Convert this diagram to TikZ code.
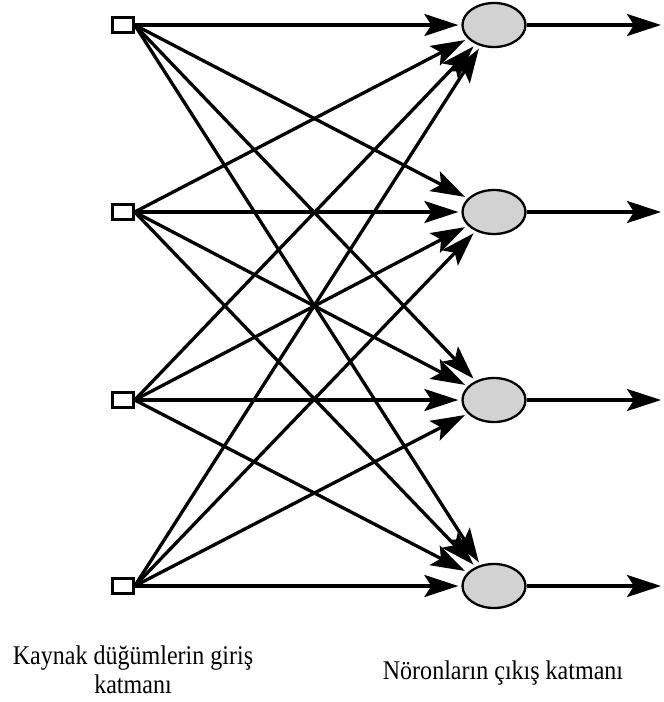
\documentclass[tikz,border=0pt]{standalone}
\usepackage{fontspec}
\setmainfont{Liberation Serif}
\usetikzlibrary{arrows.meta,shapes.geometric}
\begin{document}
\begin{tikzpicture}[x=1pt,y=-1pt,
  inp/.style={draw=black, line width=2.4pt, fill=white, minimum width=21pt, minimum height=15pt, inner sep=0pt},
  neuron/.style={draw=black, line width=2.3pt, fill=gray!35, ellipse, minimum width=63pt, minimum height=44pt, inner sep=0pt},
  conn/.style={line width=3.3pt, shorten >=3pt, -{Stealth[length=34pt,width=22pt,inset=7pt]}},
  lbl/.style={font=\fontsize{27}{30}\selectfont, inner sep=0pt}]
\useasboundingbox (0,0) rectangle (664,702);
\foreach \i/\y in {1/25,2/212,3/400,4/586}{
  \node[inp] (in\i) at (123,\y) {};
  \node[neuron] (out\i) at (494,\y) {};
  \coordinate (end\i) at (664,\y);
}
\foreach \i in {1,...,4}{
  \foreach \j in {1,...,4}{
    \draw[conn] (in\i.east) -- (out\j);
  }
  \draw[conn] (out\i.east) -- (end\i);
}
\node[lbl] (l1) at (133,673) {\scalebox{0.89}[1]{\begin{tabular}{@{}c@{}}Kaynak düğümlerin giriş\\[-1pt]katmanı\end{tabular}}};
\node[lbl] (l2) at (503,673) {\scalebox{0.89}[1]{Nöronların çıkış katmanı}};
\end{tikzpicture}
\end{document}
